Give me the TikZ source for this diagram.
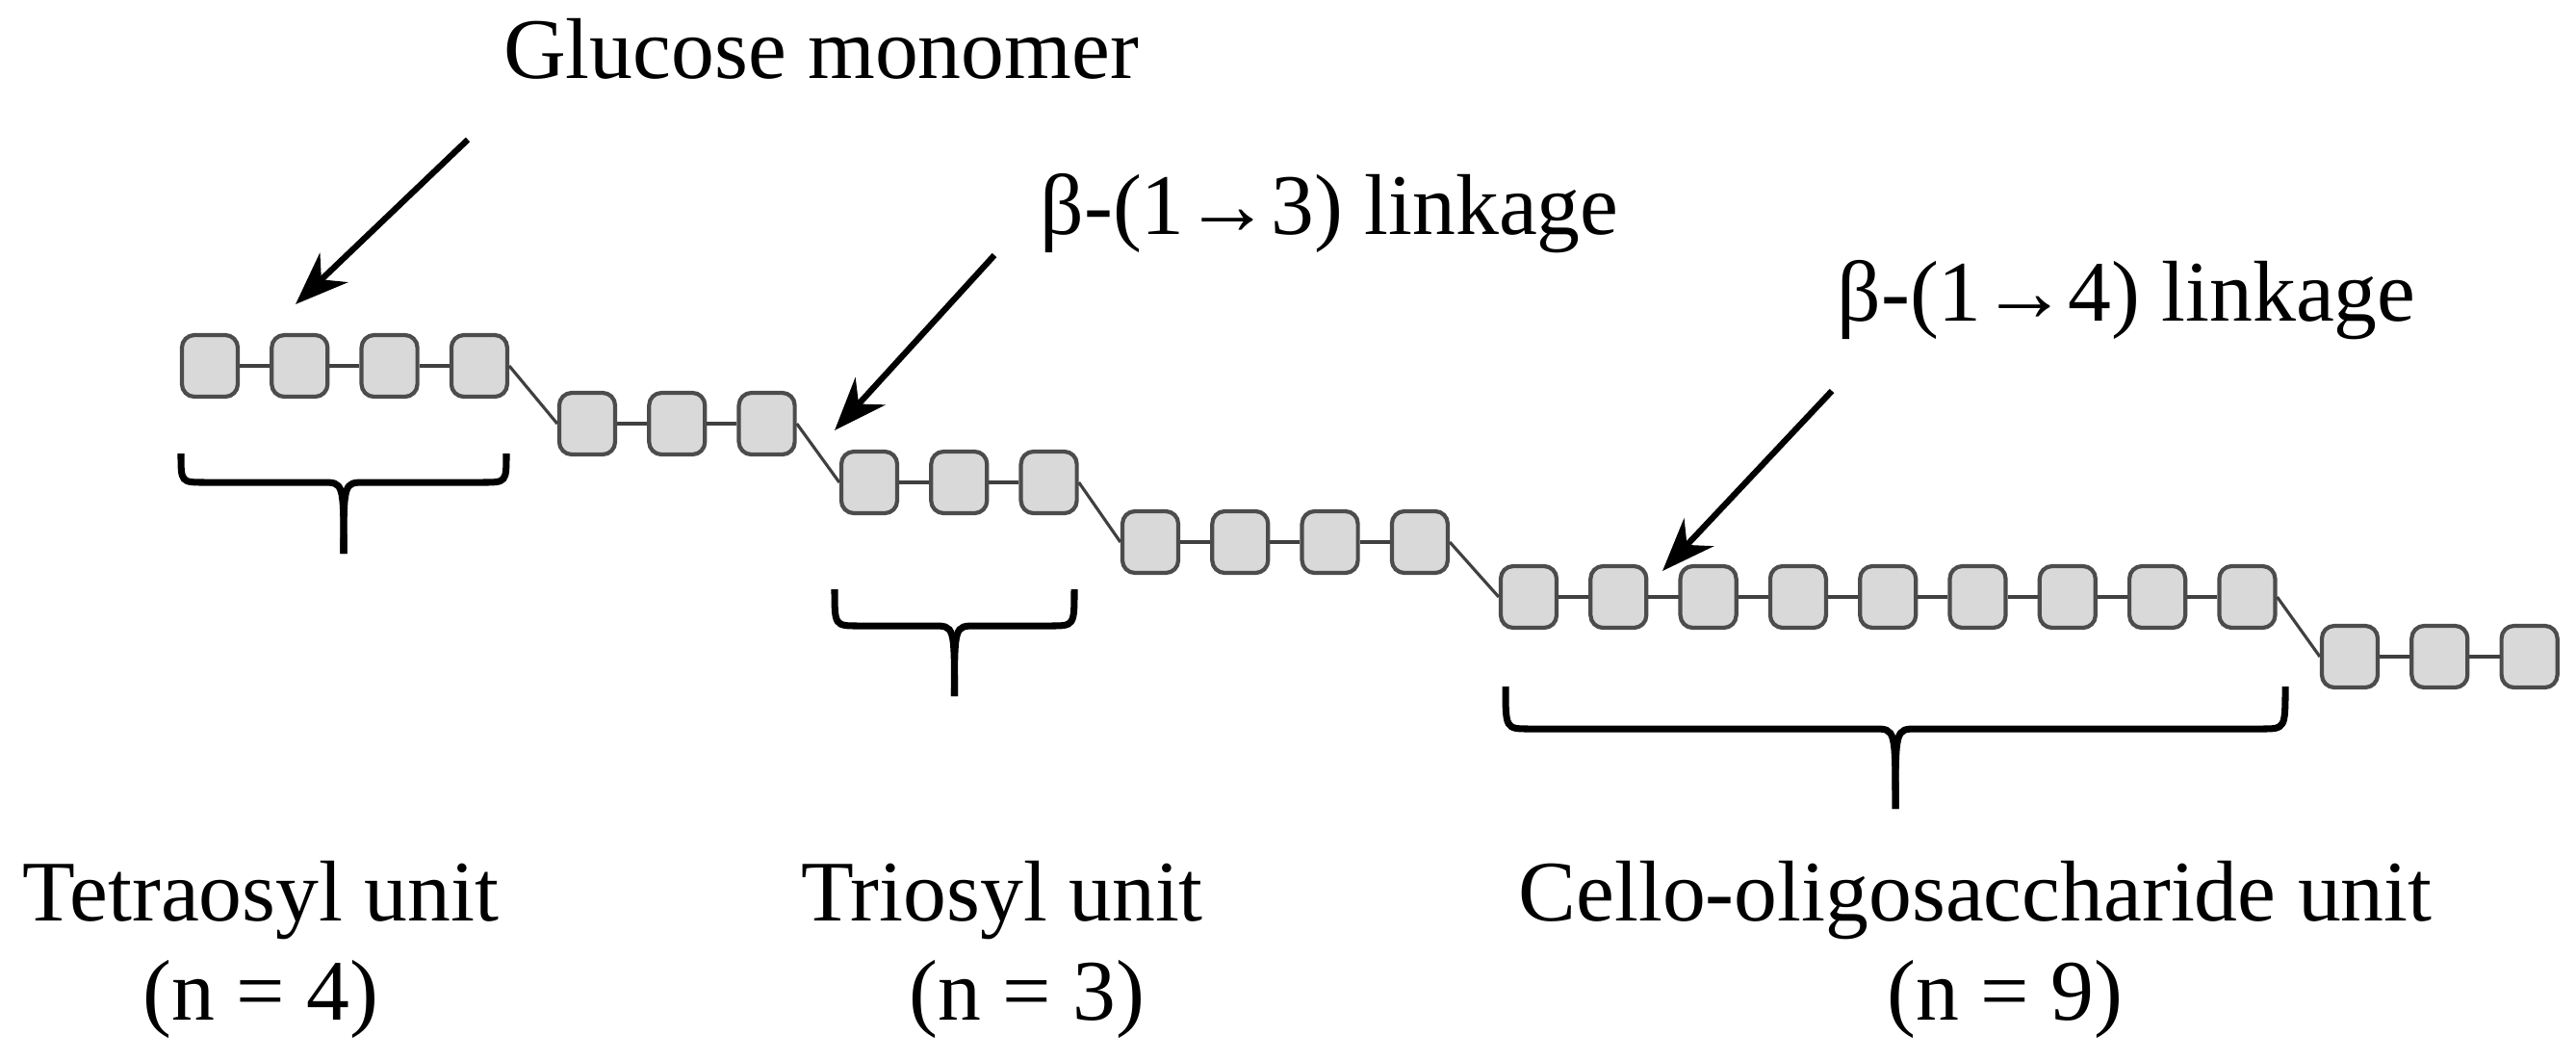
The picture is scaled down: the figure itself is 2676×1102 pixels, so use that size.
\documentclass[tikz,border=0pt]{standalone}
\usepackage{fontspec}
\setmainfont{Liberation Serif}
\usetikzlibrary{arrows.meta}
\begin{document}
\begin{tikzpicture}[x=0.01cm,y=-0.01cm,
  glc/.style={draw=black!70,line width=1.2pt,fill=black!15,rounded corners=0.13cm,minimum width=0.58cm,minimum height=0.64cm,inner sep=0pt},
  bond/.style={draw=black!75,line width=0.9pt},
  brace/.style={draw=black,line width=2pt},
  pointer/.style={draw=black,line width=1.8pt,-{Stealth[length=0.55cm,width=0.42cm]}},
  lbl/.style={font=\fontsize{25.5}{31}\selectfont,inner sep=0pt}]
\useasboundingbox (0,0) rectangle (2676,1102);
% glucose units: row, start x, y, count
\foreach \r/\xs/\yy/\n in {1/218/380/4, 2/610/440/3, 3/903/501/3, 4/1195/563/4, 5/1588/620/9, 6/2441/682/3}{
  \foreach \i in {1,...,\n}{
    \node[glc] (g\r-\i) at ({\xs+(\i-1)*93.3},\yy) {};
  }
  \foreach \i [evaluate=\i as \j using int(\i+1)] in {1,...,\n}{
    \ifnum\i<\n \draw[bond] (g\r-\i) -- (g\r-\j); \fi
  }
}
\draw[bond] (g1-4.east) -- (g2-1.west);
\draw[bond] (g2-3.east) -- (g3-1.west);
\draw[bond] (g3-3.east) -- (g4-1.west);
\draw[bond] (g4-4.east) -- (g5-1.west);
\draw[bond] (g5-9.east) -- (g6-1.west);
% braces
\foreach \xa/\xb/\yt/\yl/\yp in {188/526/471/501/575, 867/1116/612/650/723, 1564/2374/713/757/840}{
  \pgfmathsetmacro\xm{(\xa+\xb)/2}
  \draw[brace] (\xa,\yt) .. controls (\xa,\yl) .. ({\xa+25},\yl) -- ({\xm-22},\yl)
    .. controls (\xm,\yl) .. (\xm,\yp);
  \draw[brace] (\xb,\yt) .. controls (\xb,\yl) .. ({\xb-25},\yl) -- ({\xm+22},\yl)
    .. controls (\xm,\yl) .. (\xm,\yp);
}
% labels
\node[lbl] (tglu) at (853,51) {Glucose monomer};
\node[lbl] (t13) at (1381,222) {β-(1→3) linkage};
\node[lbl] (t14) at (2209,312) {β-(1→4) linkage};
\node[lbl] (tt) at (271,935) {Tetraosyl unit};
\node[lbl] (tn4) at (271,1038) {(n = 4)};
\node[lbl] (tr) at (1041,935) {Triosyl unit};
\node[lbl] (tn3) at (1067,1038) {(n = 3)};
\node[lbl] (tc) at (2052,935) {Cello-oligosaccharide unit};
\node[lbl] (tn9) at (2083,1038) {(n = 9)};
% arrows
\coordinate (a1s) at (486,145); \coordinate (a1e) at (307,316);
\coordinate (a2s) at (1033,265); \coordinate (a2e) at (867,447);
\coordinate (a3s) at (1903,406); \coordinate (a3e) at (1727,593);
\draw[pointer] (a1s) -- (a1e);
\draw[pointer] (a2s) -- (a2e);
\draw[pointer] (a3s) -- (a3e);
\end{tikzpicture}
\end{document}
